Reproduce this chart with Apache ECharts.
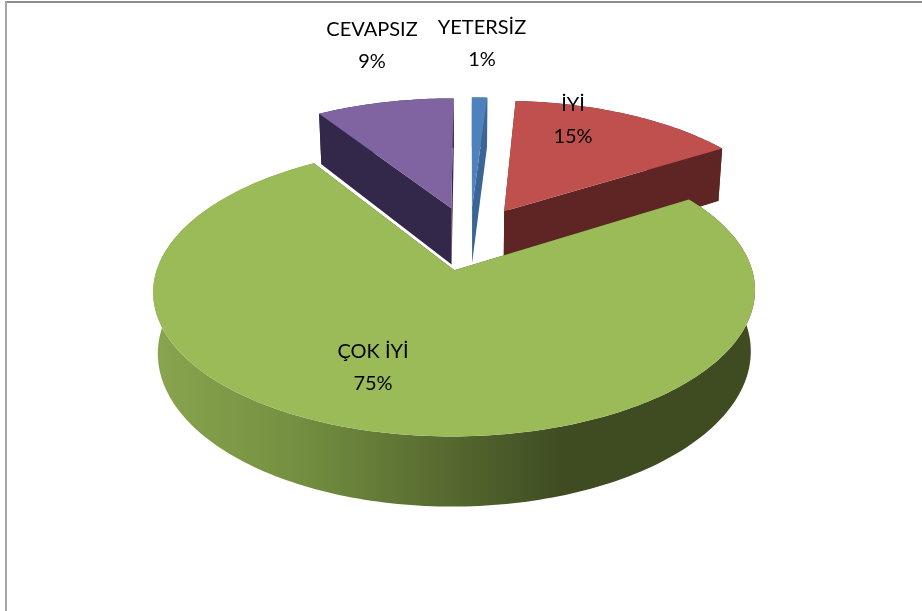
<!DOCTYPE html>
<html>
<head>
<meta charset="utf-8">
<style>html,body{margin:0;padding:0;background:#fff}#c{width:922px;height:611px}</style>
<script src="https://cdn.jsdelivr.net/npm/echarts@6/dist/echarts.min.js"></script>
</head>
<body>
<div id="c"></div>
<script>
var categories = ['YETERSİZ', 'İYİ', 'ÇOK İYİ', 'CEVAPSIZ'];
var values = [1, 15, 75, 9];
var percentLabels = ['1%', '15%', '75%', '9%'];

// Appearance and layout, kept apart from the data
var topColors = ['#4f81bd', '#c0504d', '#9bbb59', '#8064a2'];
var sideColors = ['#3b6595', '#5e2524', '#3f4c22', '#33284a'];
var drawOrder = [2, 3, 4, 1].map(function (z) { return z * 10; }); // green on top
drawOrder = [20, 30, 40, 10];
var labelCentres = [[482, 44], [573, 121], [373, 368], [372, 46]];
var view = { cx: 470, cy: 238, a: 288, b: 133, k: 0.14, depth: 58, taper: 0.015, explode: 0.24 };

function project(X, Y, z) {
  var w = 1 - view.k * Y;
  return [
    view.cx + view.a * X / (w * (1 + view.taper * z)),
    view.cy + (view.b * Y + view.depth * z) / w
  ];
}

var total = values.reduce(function (s, v) { return s + v; }, 0);

function renderSlice(params, api) {
  var i = params.dataIndex;
  var before = 0;
  for (var n = 0; n < i; n++) before += values[n];
  var start = before / total * Math.PI * 2;
  var end = (before + api.value(0)) / total * Math.PI * 2;
  var mid = (start + end) / 2;
  var ox = Math.sin(mid) * view.explode, oy = -Math.cos(mid) * view.explode;
  var steps = Math.max(4, Math.ceil((end - start) / 0.02));
  function rim(t, z) { return project(ox + Math.sin(t), oy - Math.cos(t), z); }
  var apexT = project(ox, oy, 0), apexB = project(ox, oy, 1);
  var arcT = [], arcB = [];
  for (var s = 0; s <= steps; s++) {
    var t = start + (end - start) * s / steps;
    arcT.push(rim(t, 0));
    arcB.push(rim(t, 1));
  }
  var z2 = drawOrder[i];
  var side = sideColors[i], top = topColors[i];
  var wallFill = side;
  if (i === 2) {
    wallFill = new echarts.graphic.LinearGradient(0, 0, 1, 0, [
      { offset: 0, color: '#8aa54e' },
      { offset: 0.25, color: '#738e40' },
      { offset: 0.68, color: '#3f4c22' },
      { offset: 1, color: '#3f4c22' }
    ]);
  }
  function poly(points, fill, z) {
    return { type: 'polygon', z2: z, silent: true, shape: { points: points }, style: { fill: fill } };
  }
  var lastT = arcT[arcT.length - 1], lastB = arcB[arcB.length - 1];
  var c = labelCentres[i];
  return {
    type: 'group',
    children: [
      poly([apexT, arcT[0], arcB[0], apexB], side, z2),
      poly([apexT, lastT, lastB, apexB], side, z2),
      poly(arcT.concat(arcB.slice().reverse()), wallFill, z2 + 1),
      poly([apexT].concat(arcT), top, z2 + 2),
      {
        type: 'text', z2: 100, silent: true,
        style: {
          x: c[0], y: c[1], text: categories[i] + '\n' + percentLabels[i],
          align: 'center', verticalAlign: 'middle', fill: '#000',
          font: '20px Lato', lineHeight: 32
        }
      }
    ]
  };
}

var chart = echarts.init(document.getElementById('c'), null, { renderer: 'canvas' });
chart.setOption({
  animation: false,
  backgroundColor: '#ffffff',
  graphic: [
    { type: 'rect', silent: true, shape: { x: 5, y: 1, width: 917, height: 2 }, style: { fill: '#8c8c8c' } },
    { type: 'rect', silent: true, shape: { x: 5, y: 1, width: 2, height: 610 }, style: { fill: '#a6a6a6' } }
  ],
  series: [{
    type: 'custom',
    coordinateSystem: 'none',
    renderItem: renderSlice,
    data: values.map(function (v, i) { return { name: categories[i], value: [v] }; })
  }]
});
</script>
</body>
</html>
